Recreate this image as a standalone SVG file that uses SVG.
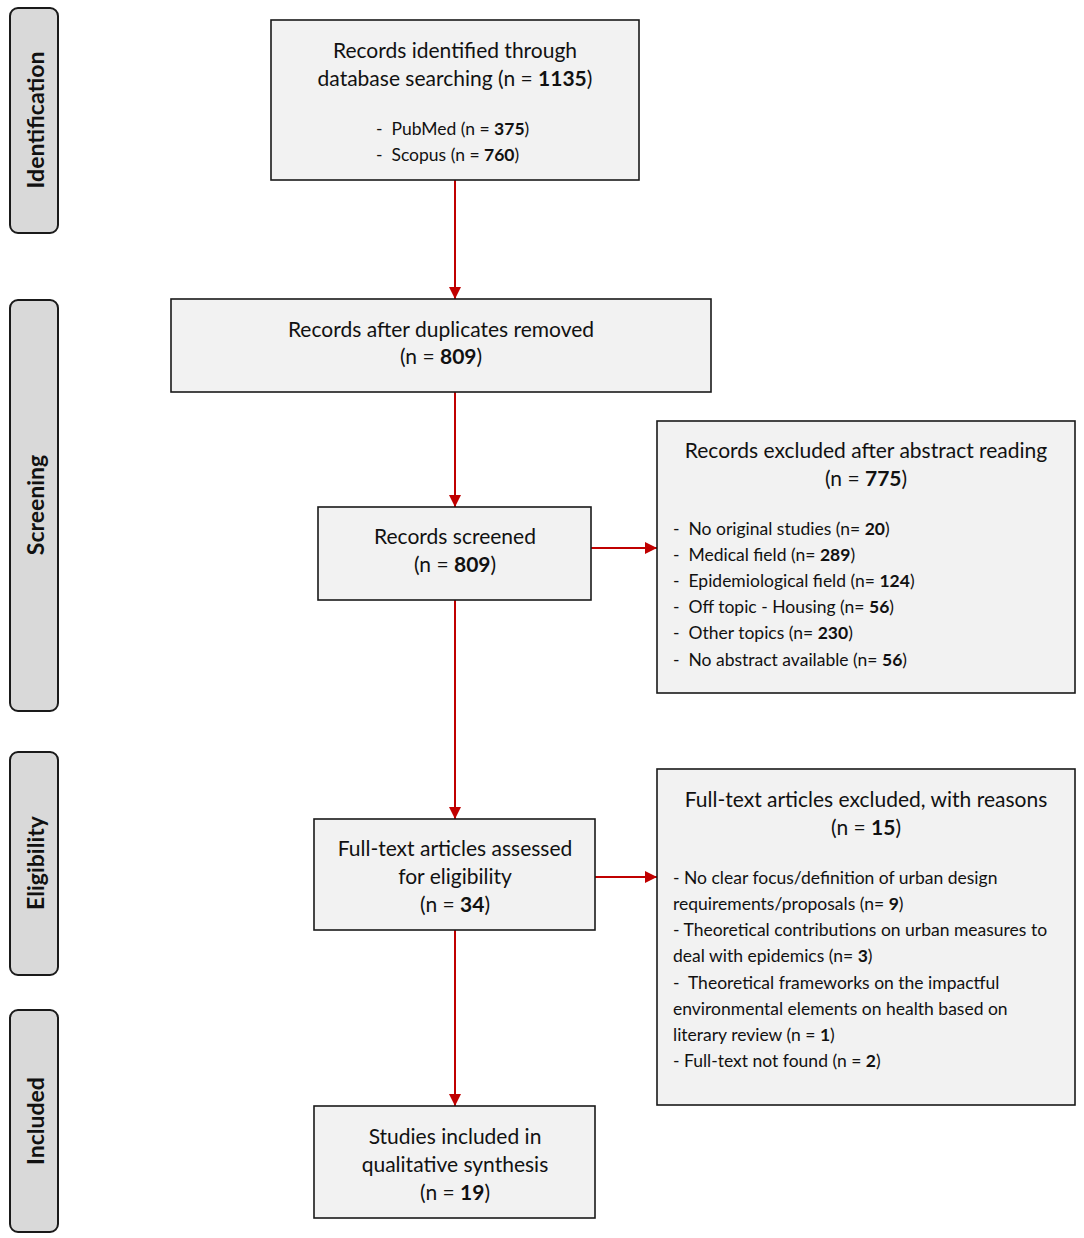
<svg xmlns="http://www.w3.org/2000/svg" width="1084" height="1238" viewBox="0 0 1084 1238">
<style>
.box{fill:#f2f2f2;stroke:#1a1a1a;stroke-width:1.6}
.side{fill:#d9d9d9;stroke:#1a1a1a;stroke-width:2}
.t{font-family:Lato,"Open Sans",sans-serif;font-size:21px;fill:#111;text-anchor:middle}
.l{font-family:Lato,"Open Sans",sans-serif;font-size:17.5px;fill:#111;white-space:pre}
.s{font-family:Lato,"Open Sans",sans-serif;font-size:23px;font-weight:bold;fill:#111;text-anchor:middle}
.b{font-weight:bold}
.c{stroke:#c00000;stroke-width:2;fill:none;marker-end:url(#ah)}
</style>
<defs>
<marker id="ah" viewBox="0 0 12 12" refX="12" refY="6" markerWidth="12" markerHeight="12" markerUnits="userSpaceOnUse" orient="auto">
<path d="M0,0 L12,6 L0,12 z" fill="#c00000"/>
</marker>
</defs>
<rect width="1084" height="1238" fill="#fff"/>
<g id="side-identification"><rect class="side" x="10" y="8" width="48" height="225" rx="8"/><text class="s" transform="translate(44,120) rotate(-90)">Identification</text></g>
<g id="side-screening"><rect class="side" x="10" y="300" width="48" height="411" rx="8"/><text class="s" transform="translate(44,505) rotate(-90)">Screening</text></g>
<g id="side-eligibility"><rect class="side" x="10" y="752" width="48" height="223" rx="8"/><text class="s" transform="translate(44,863) rotate(-90)">Eligibility</text></g>
<g id="side-included"><rect class="side" x="10" y="1010" width="48" height="222" rx="8"/><text class="s" transform="translate(44,1121) rotate(-90)">Included</text></g>

<g id="connectors">
<line class="c" x1="455" y1="180" x2="455" y2="299"/>
<line class="c" x1="455" y1="392" x2="455" y2="507"/>
<line class="c" x1="455" y1="600" x2="455" y2="819"/>
<line class="c" x1="455" y1="930" x2="455" y2="1106"/>
<line class="c" x1="591" y1="548" x2="657" y2="548"/>
<line class="c" x1="595" y1="877" x2="657" y2="877"/>
</g>

<g id="n-identified"><rect class="box" x="271" y="20" width="368" height="160"/>
<text class="t" x="455" y="58">Records identified through</text>
<text class="t" x="455" y="86">database searching (n = <tspan class="b">1135</tspan>)</text>
<text class="l" x="376" y="135">-  PubMed (n = <tspan class="b">375</tspan>)</text>
<text class="l" x="376" y="161">-  Scopus (n = <tspan class="b">760</tspan>)</text>
</g>
<g id="n-duplicates"><rect class="box" x="171" y="299" width="540" height="93"/>
<text class="t" x="441" y="337">Records after duplicates removed</text>
<text class="t" x="441" y="364">(n = <tspan class="b">809</tspan>)</text>
</g>
<g id="n-screened"><rect class="box" x="318" y="507" width="273" height="93"/>
<text class="t" x="455" y="544">Records screened</text>
<text class="t" x="455" y="572">(n = <tspan class="b">809</tspan>)</text>
</g>
<g id="n-excluded-abstract"><rect class="box" x="657" y="421" width="418" height="272"/>
<text class="t" x="866" y="458">Records excluded after abstract reading</text>
<text class="t" x="866" y="486">(n = <tspan class="b">775</tspan>)</text>
<text class="l" x="673" y="535">-  No original studies (n= <tspan class="b">20</tspan>)</text>
<text class="l" x="673" y="561">-  Medical field (n= <tspan class="b">289</tspan>)</text>
<text class="l" x="673" y="587">-  Epidemiological field (n= <tspan class="b">124</tspan>)</text>
<text class="l" x="673" y="613">-  Off topic - Housing (n= <tspan class="b">56</tspan>)</text>
<text class="l" x="673" y="639">-  Other topics (n= <tspan class="b">230</tspan>)</text>
<text class="l" x="673" y="666">-  No abstract available (n= <tspan class="b">56</tspan>)</text>
</g>
<g id="n-assessed"><rect class="box" x="314" y="819" width="281" height="111"/>
<text class="t" x="455" y="856">Full-text articles assessed</text>
<text class="t" x="455" y="884">for eligibility</text>
<text class="t" x="455" y="912">(n = <tspan class="b">34</tspan>)</text>
</g>
<g id="n-excluded-fulltext"><rect class="box" x="657" y="769" width="418" height="336"/>
<text class="t" x="866" y="807">Full-text articles excluded, with reasons</text>
<text class="t" x="866" y="835">(n = <tspan class="b">15</tspan>)</text>
<text class="l" x="673" y="884">- No clear focus/definition of urban design</text>
<text class="l" x="673" y="910">requirements/proposals (n= <tspan class="b">9</tspan>)</text>
<text class="l" x="673" y="936">- Theoretical contributions on urban measures to</text>
<text class="l" x="673" y="962">deal with epidemics (n= <tspan class="b">3</tspan>)</text>
<text class="l" x="673" y="989">-  Theoretical frameworks on the impactful</text>
<text class="l" x="673" y="1015">environmental elements on health based on</text>
<text class="l" x="673" y="1041">literary review (n = <tspan class="b">1</tspan>)</text>
<text class="l" x="673" y="1067">- Full-text not found (n = <tspan class="b">2</tspan>)</text>
</g>
<g id="n-included"><rect class="box" x="314" y="1106" width="281" height="112"/>
<text class="t" x="455" y="1144">Studies included in</text>
<text class="t" x="455" y="1172">qualitative synthesis</text>
<text class="t" x="455" y="1200">(n = <tspan class="b">19</tspan>)</text>
</g>
</svg>
